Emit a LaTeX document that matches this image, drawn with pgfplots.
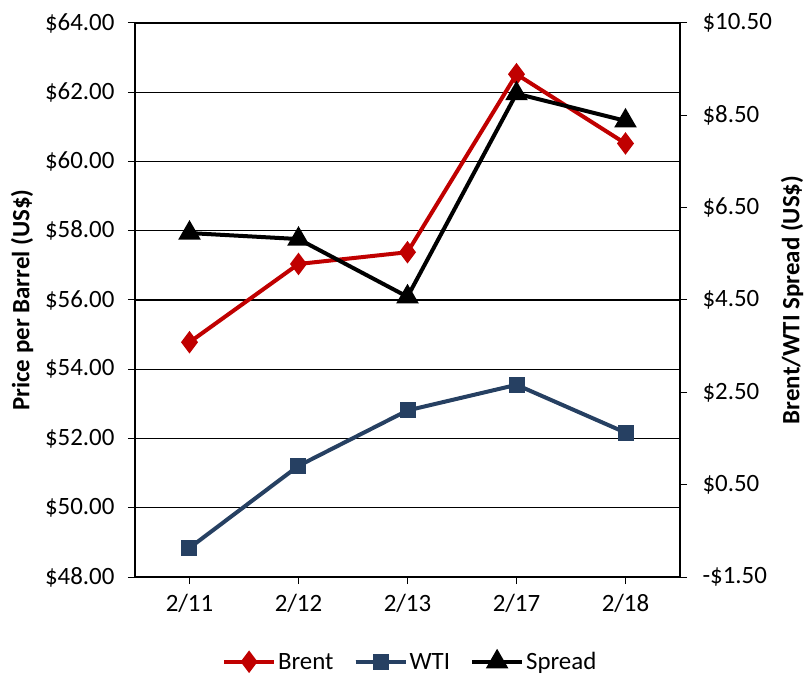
\documentclass[border=0pt]{standalone}
\usepackage{pgfplots}
\pgfplotsset{compat=1.18}
\usepackage{fontspec}
\setmainfont{Carlito}
\definecolor{brentred}{RGB}{192,0,0}
\definecolor{wtiblue}{RGB}{38,64,98}
\begin{document}
\begin{tikzpicture}
\path[use as bounding box] (-135bp,-104bp) rectangle (671bp,577bp);
\pgfplotsset{
  every axis/.append style={
    scale only axis, width=545bp, height=554bp,
    xmin=-0.5, xmax=4.5,
    /pgf/number format/assume math mode=true,
    tick label style={font=\fontsize{25}{30}\selectfont},
    label style={font=\bfseries\fontsize{25}{30}\selectfont},
    major tick length=7bp,
    tick align=outside,
    axis line style={line width=1.8bp},
    major tick style={line width=1bp, black},
  }
}
\begin{axis}[
  at={(0,0)}, anchor=south west,
  ymin=48, ymax=64,
  ytick={48,50,...,64},
  yticklabels={\$48.00,\$50.00,\$52.00,\$54.00,\$56.00,\$58.00,\$60.00,\$62.00,\$64.00},
  xtick={0,1,2,3,4},
  xticklabels={2/11,2/12,2/13,2/17,2/18},
  axis x line*=bottom,
  axis y line*=left,
  ymajorgrids,
  grid style={black, line width=1.1bp},
  ylabel={Price per Barrel (US\$)},
  ylabel style={at={(rel axis cs:0,0.5)}, anchor=center, yshift=113bp},
  yticklabel style={xshift=-10bp},
  xticklabel style={yshift=-7bp},
]
\addplot[brentred, line width=4bp, mark=diamond*, mark size=8bp, mark options={solid, fill=brentred}]
  coordinates {(0,54.78) (1,57.04) (2,57.38) (3,62.52) (4,60.52)};
\addplot[wtiblue, line width=4bp, mark=square*, mark size=6bp, mark options={solid, fill=wtiblue}]
  coordinates {(0,48.84) (1,51.21) (2,52.81) (3,53.55) (4,52.17)};
\end{axis}
\begin{axis}[
  at={(0,0)}, anchor=south west,
  ymin=-1.5, ymax=10.5,
  ytick={-1.5,0.5,...,10.5},
  yticklabels={-\$1.50,\$0.50,\$2.50,\$4.50,\$6.50,\$8.50,\$10.50},
  axis x line=none,
  axis y line*=right,
  ylabel={Brent/WTI Spread (US\$)},
  ylabel style={at={(rel axis cs:1,0.5)}, anchor=center, yshift=-112bp},
  yticklabel style={xshift=12bp},
  legend columns=3,
  legend style={at={(rel axis cs:0.505,-0.153)}, anchor=center, draw=none, fill=none,
    font=\fontsize{25}{30}\selectfont,
    /tikz/every even column/.append style={column sep=18bp}},
  legend image code/.code={
    \draw[#1] (0bp,0bp) -- (25bp,0bp) -- (50bp,0bp);
    \draw[#1, mark repeat=2, mark phase=2] plot coordinates {(0bp,0bp) (25bp,0bp) (50bp,0bp)};
  },
]
\addlegendimage{brentred, line width=4bp, mark=diamond*, mark size=8bp, mark options={solid, fill=brentred}}
\addlegendentry{Brent}
\addlegendimage{wtiblue, line width=4bp, mark=square*, mark size=6bp, mark options={solid, fill=wtiblue}}
\addlegendentry{WTI}
\addplot[black, line width=4bp, mark=triangle*, mark size=9bp, mark options={solid, fill=black}]
  coordinates {(0,5.95) (1,5.82) (2,4.57) (3,8.97) (4,8.38)};
\addlegendentry{Spread}
\end{axis}
\end{tikzpicture}
\end{document}
